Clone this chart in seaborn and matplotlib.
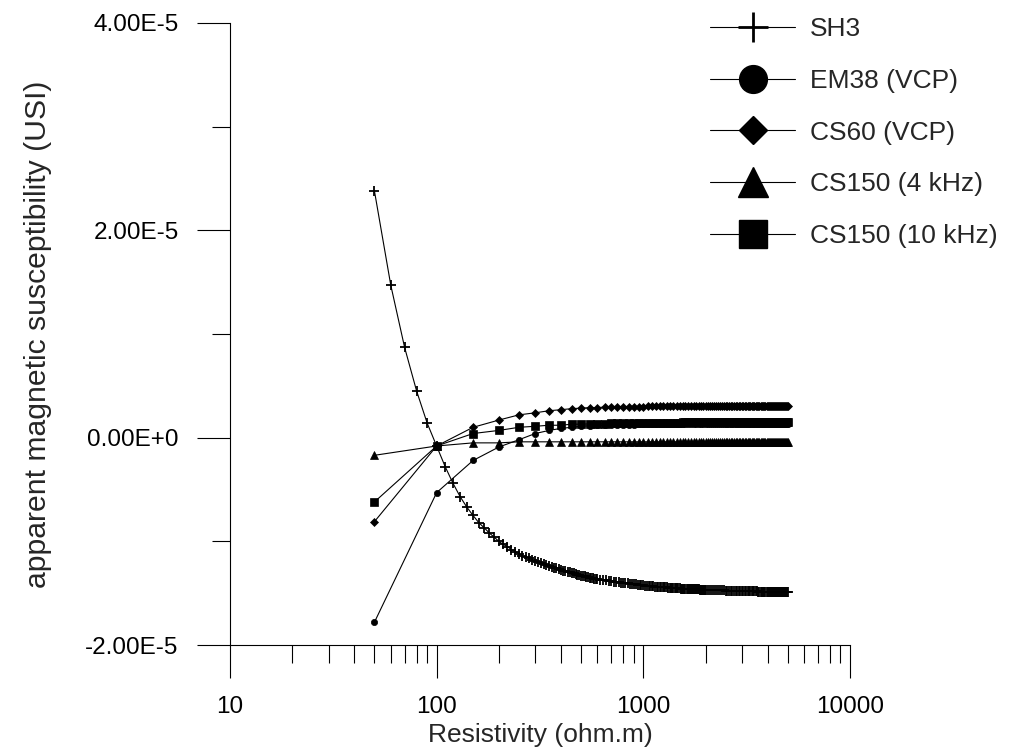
import numpy as np
import pandas as pd
import matplotlib
matplotlib.use('Agg')
import matplotlib.pyplot as plt
from matplotlib.lines import Line2D
from matplotlib.ticker import LogLocator, NullFormatter
import seaborn as sns

# Resistivity (ohm.m) sampling of the SH3 curve: 10 ohm.m steps, coarser at the far end
sh3_x = list(range(50, 610, 10)) + list(range(620, 2020, 20)) + list(range(2050, 5050, 50))

# apparent susceptibility, in units of 1E-5 SI
sh3_y = [
    # 50 .. 600 (step 10)
    2.38, 1.47, 0.87, 0.45, 0.14, -0.08, -0.28, -0.44, -0.57, -0.67,
    -0.75, -0.82, -0.87, -0.92, -0.96, -1.00, -1.03, -1.05, -1.08, -1.10,
    -1.12, -1.14, -1.15, -1.16, -1.18, -1.19, -1.20, -1.21, -1.22, -1.23,
    -1.24, -1.25, -1.255, -1.26, -1.27, -1.28, -1.285, -1.29, -1.295, -1.30,
    -1.305, -1.31, -1.315, -1.32, -1.325, -1.33, -1.333, -1.337, -1.34, -1.345,
    -1.35, -1.353, -1.356, -1.36, -1.363, -1.366,
    # 620 .. 2000 (step 20)
    -1.37, -1.373, -1.377, -1.38, -1.385, -1.388, -1.39, -1.395, -1.398, -1.40,
    -1.403, -1.405, -1.408, -1.41, -1.413, -1.415, -1.417, -1.42, -1.422, -1.424,
    -1.426, -1.428, -1.43, -1.431, -1.433, -1.434, -1.436, -1.437, -1.439, -1.44,
    -1.441, -1.442, -1.443, -1.444, -1.445, -1.446, -1.447, -1.448, -1.449, -1.45,
    -1.451, -1.452, -1.452, -1.453, -1.454, -1.455, -1.455, -1.456, -1.457, -1.457,
    -1.458, -1.459, -1.459, -1.46, -1.46, -1.461, -1.461, -1.462, -1.462, -1.463,
    -1.463, -1.464, -1.464, -1.465, -1.465, -1.466, -1.466, -1.467, -1.467, -1.468,
    # 2050 .. 5000 (step 50)
    -1.468, -1.469, -1.47, -1.47, -1.471, -1.472, -1.472, -1.473, -1.473, -1.474,
    -1.475, -1.475, -1.476, -1.476, -1.477, -1.477, -1.478, -1.478, -1.479, -1.479,
    -1.48, -1.48, -1.48, -1.481, -1.481, -1.482, -1.482, -1.482, -1.483, -1.483,
    -1.483, -1.484, -1.484, -1.484, -1.485, -1.485, -1.485, -1.486, -1.486, -1.486,
    -1.486, -1.487, -1.487, -1.487, -1.487, -1.488, -1.488, -1.488, -1.488, -1.489,
    -1.489, -1.489, -1.489, -1.489, -1.49, -1.49, -1.49, -1.49, -1.49, -1.49,
]

# Resistivity sampling of the other instruments (50 ohm.m steps)
inst_x = list(range(50, 5050, 50))

em38_y = [
    -1.78, -0.53, -0.22, -0.09, -0.02, 0.04, 0.07, 0.09, 0.10, 0.11,
    0.115, 0.12, 0.12, 0.122, 0.124, 0.125, 0.126, 0.127, 0.128, 0.128,
    0.129, 0.129, 0.129, 0.13, 0.13, 0.13, 0.13, 0.13, 0.13, 0.13,
    0.13, 0.13, 0.13, 0.13, 0.13, 0.13, 0.13, 0.13, 0.13, 0.13,
    0.13, 0.13, 0.13, 0.13, 0.13, 0.13, 0.13, 0.13, 0.13, 0.13,
    0.13, 0.13, 0.13, 0.13, 0.13, 0.13, 0.13, 0.13, 0.13, 0.13,
    0.13, 0.13, 0.13, 0.13, 0.13, 0.13, 0.13, 0.13, 0.13, 0.13,
    0.13, 0.13, 0.13, 0.13, 0.13, 0.13, 0.13, 0.13, 0.13, 0.13,
    0.13, 0.13, 0.13, 0.13, 0.13, 0.13, 0.13, 0.13, 0.13, 0.13,
    0.13, 0.13, 0.13, 0.13, 0.13, 0.13, 0.13, 0.13, 0.13, 0.13,
]

cs60_y = [
    -0.81, -0.08, 0.10, 0.17, 0.22, 0.24, 0.26, 0.27, 0.28, 0.285,
    0.29, 0.29, 0.295, 0.297, 0.30, 0.30, 0.30, 0.30, 0.30, 0.30,
    0.302, 0.302, 0.303, 0.303, 0.304, 0.304, 0.305, 0.305, 0.306, 0.306,
    0.307, 0.307, 0.308, 0.308, 0.308, 0.309, 0.309, 0.309, 0.31, 0.31,
    0.31, 0.31, 0.31, 0.31, 0.31, 0.31, 0.31, 0.31, 0.31, 0.31,
    0.31, 0.31, 0.31, 0.31, 0.31, 0.31, 0.31, 0.31, 0.31, 0.31,
    0.31, 0.31, 0.31, 0.31, 0.31, 0.31, 0.31, 0.31, 0.31, 0.31,
    0.31, 0.31, 0.31, 0.31, 0.31, 0.31, 0.31, 0.31, 0.31, 0.31,
    0.31, 0.31, 0.31, 0.31, 0.31, 0.31, 0.31, 0.31, 0.31, 0.31,
    0.31, 0.31, 0.31, 0.31, 0.31, 0.31, 0.31, 0.31, 0.31, 0.31,
]

cs150_4_y = [
    -0.17, -0.08, -0.05, -0.05, -0.04, -0.04, -0.04, -0.04, -0.04, -0.04,
    -0.04, -0.04, -0.04, -0.04, -0.04, -0.04, -0.04, -0.04, -0.04, -0.04,
    -0.04, -0.04, -0.04, -0.04, -0.04, -0.04, -0.04, -0.04, -0.04, -0.04,
    -0.04, -0.04, -0.04, -0.04, -0.04, -0.04, -0.04, -0.04, -0.04, -0.04,
    -0.04, -0.04, -0.04, -0.04, -0.04, -0.04, -0.04, -0.04, -0.04, -0.04,
    -0.04, -0.04, -0.04, -0.04, -0.04, -0.04, -0.04, -0.04, -0.04, -0.04,
    -0.04, -0.04, -0.04, -0.04, -0.04, -0.04, -0.04, -0.04, -0.04, -0.04,
    -0.04, -0.04, -0.04, -0.04, -0.04, -0.04, -0.04, -0.04, -0.04, -0.04,
    -0.04, -0.04, -0.04, -0.04, -0.04, -0.04, -0.04, -0.04, -0.04, -0.04,
    -0.04, -0.04, -0.04, -0.04, -0.04, -0.04, -0.04, -0.04, -0.04, -0.04,
]

cs150_10_y = [
    -0.62, -0.08, 0.04, 0.07, 0.10, 0.11, 0.12, 0.12, 0.13, 0.13,
    0.133, 0.135, 0.136, 0.137, 0.138, 0.139, 0.14, 0.14, 0.14, 0.14,
    0.142, 0.142, 0.143, 0.143, 0.144, 0.144, 0.145, 0.145, 0.146, 0.146,
    0.147, 0.147, 0.148, 0.148, 0.148, 0.149, 0.149, 0.149, 0.15, 0.15,
    0.15, 0.15, 0.15, 0.15, 0.15, 0.15, 0.15, 0.15, 0.15, 0.15,
    0.15, 0.15, 0.15, 0.15, 0.15, 0.15, 0.15, 0.15, 0.15, 0.15,
    0.15, 0.15, 0.15, 0.15, 0.15, 0.15, 0.15, 0.15, 0.15, 0.15,
    0.15, 0.15, 0.15, 0.15, 0.15, 0.15, 0.15, 0.15, 0.15, 0.15,
    0.15, 0.15, 0.15, 0.15, 0.15, 0.15, 0.15, 0.15, 0.15, 0.15,
    0.15, 0.15, 0.15, 0.15, 0.15, 0.15, 0.15, 0.15, 0.15, 0.15,
]

labels = ['SH3', 'EM38 (VCP)', 'CS60 (VCP)', 'CS150 (4 kHz)', 'CS150 (10 kHz)']

sns.set_style('ticks')
plt.rcParams['font.family'] = ['Liberation Sans', 'DejaVu Sans']

fig = plt.figure(figsize=(10.19, 7.51), dpi=100)
ax = fig.add_axes([0.2257, 0.1411, 0.6084, 0.8283])

series = [
    (sh3_x, sh3_y, '+', 6.5, 1.3),
    (inst_x, em38_y, 'o', 4.5, 0.5),
    (inst_x, cs60_y, 'D', 3.6, 0.5),
    (inst_x, cs150_4_y, '^', 5.3, 0.5),
    (inst_x, cs150_10_y, 's', 6, 0.5),
]

for (xs, ys, mk, ms, mew), lab in zip(series, labels):
    df = pd.DataFrame({'x': xs, 'y': np.array(ys) * 1e-5})
    sns.lineplot(data=df, x='x', y='y', ax=ax, color='black', linewidth=0.8,
                 marker=mk, markersize=ms, markeredgewidth=mew,
                 markeredgecolor='black', markerfacecolor='black',
                 errorbar=None, legend=False)

ax.set_xscale('log')
ax.set_xlim(10, 10000)
ax.set_ylim(-2e-5, 4e-5)

ax.set_xticks([10, 100, 1000, 10000])
ax.set_xticklabels(['10', '100', '1000', '10000'])
ax.xaxis.set_minor_locator(LogLocator(base=10, subs=np.arange(2, 10)))
ax.xaxis.set_minor_formatter(NullFormatter())

ax.set_yticks([-2e-5, 0, 2e-5, 4e-5])
ax.set_yticklabels(['-2.00E-5', '0.00E+0', '2.00E-5', '4.00E-5'])
ax.set_yticks([-1e-5, 1e-5, 3e-5], minor=True)

ax.tick_params(which='major', direction='out', length=24, width=0.8,
               color='black', labelsize=17.5, labelcolor='black')
ax.tick_params(which='minor', direction='out', length=13, width=0.8, color='black')
ax.tick_params(axis='y', which='major', pad=13)
ax.tick_params(axis='x', which='major', pad=13)

for side in ['top', 'right']:
    ax.spines[side].set_visible(False)
for side in ['left', 'bottom']:
    ax.spines[side].set_linewidth(0.8)
    ax.spines[side].set_color('black')

ax.set_xlabel('Resistivity (ohm.m)', fontsize=19)
ax.set_ylabel('apparent magnetic susceptibility (USI)', fontsize=21.7)
ax.xaxis.set_label_coords(0.5, -0.125)
ax.yaxis.set_label_coords(-0.287, 0.5)

# legend with enlarged symbols
handles = [
    Line2D([0], [0], color='black', lw=0.8, marker='+', markersize=21, markeredgewidth=2),
    Line2D([0], [0], color='black', lw=0.8, marker='o', markersize=20),
    Line2D([0], [0], color='black', lw=0.8, marker='D', markersize=14),
    Line2D([0], [0], color='black', lw=0.8, marker='^', markersize=21),
    Line2D([0], [0], color='black', lw=0.8, marker='s', markersize=20),
]
fig.legend(handles, labels, loc='upper left', bbox_to_anchor=(0.697, 0.977),
           bbox_transform=fig.transFigure, frameon=False, fontsize=19,
           handlelength=3.22, handletextpad=0.57, labelspacing=1.05,
           borderpad=0, borderaxespad=0)

fig.savefig('out.png', dpi=100)
